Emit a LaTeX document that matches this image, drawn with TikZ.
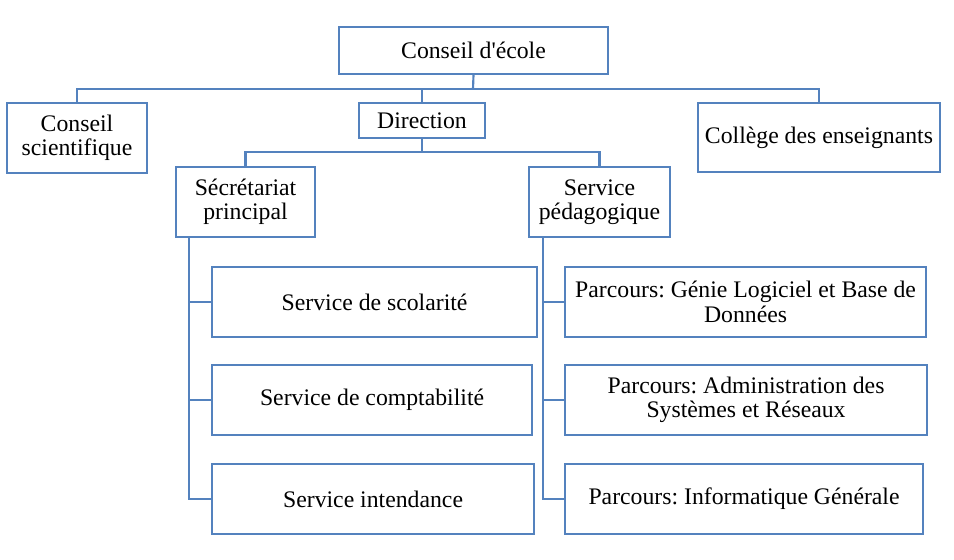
\documentclass[tikz,border=0pt]{standalone}
\usepackage{fontspec}
\setmainfont{Liberation Serif}
\usetikzlibrary{calc}

\definecolor{orgblue}{RGB}{84,130,190}
\frenchspacing

\begin{document}
\begin{tikzpicture}[x=0.75pt, y=-0.75pt,
    orgbox/.style 2 args={draw=orgblue, line width=1.6pt, fill=white, align=center, inner sep=1pt,
      minimum width=#1*0.75pt, minimum height=#2*0.75pt, font=\fontsize{17.8}{18.4}\selectfont},
    link/.style={draw=orgblue, line width=1.6pt}]

      \useasboundingbox (0,0) rectangle (954,560);

      % Top node
      \node[orgbox={269}{47}] (ecole) at (473.5,50.5) {Conseil d\textquotesingle école};

      % First level
      \node[orgbox={140}{70}] (scient) at (77,138) {Conseil\\scientifique};
      \node[orgbox={126}{35}] (direction) at (422,120.5) {Direction};
      \node[orgbox={242}{69}] (college) at (819,137.5) {Collège des enseignants};

      % Bus under the top node
      \coordinate (bus1) at (473,89);
      \draw[link] (ecole.south) -- (bus1);
      \draw[link] (scient.north) |- (bus1) -| (college.north);
      \draw[link] (bus1 -| direction.north) -- (direction.north);

      % Second level
      \node[orgbox={139}{70}] (secret) at (245.5,202) {Sécrétariat\\principal};
      \node[orgbox={141}{70}] (pedago) at (599.5,202) {Service\\pédagogique};

      % Bus under the direction
      \coordinate (bus2) at (422,152);
      \draw[link] (direction.south) -- (bus2);
      \draw[link] (secret.north) |- (bus2) -| (pedago.north);

      % Services of the secretariat
      \foreach \name/\w/\y/\txt in {scol/325/302/{Service de scolarité},
          compta/320/400/{Service de comptabilité},
          intend/322/499/{Service intendance}} {
        \node[orgbox={\w}{70}, anchor=west] (\name) at (211,\y) {\txt};
        \draw[link] ([xshift=10.5pt]secret.south west) |- (\name.west);
      }

      % Tracks of the pedagogic service
      \foreach \name/\w/\y/\txt in {genie/361/302/{Parcours: Génie Logiciel et Base de\\Données},
          admin/362/400/{Parcours: Administration des\\Systèmes et Réseaux},
          info/358/499/{Parcours: Informatique Générale}} {
        \node[orgbox={\w}{70}, anchor=west] (\name) at (564,\y) {\txt};
        \draw[link] ([xshift=11.25pt]pedago.south west) |- (\name.west);
      }
    \end{tikzpicture}
\end{document}
